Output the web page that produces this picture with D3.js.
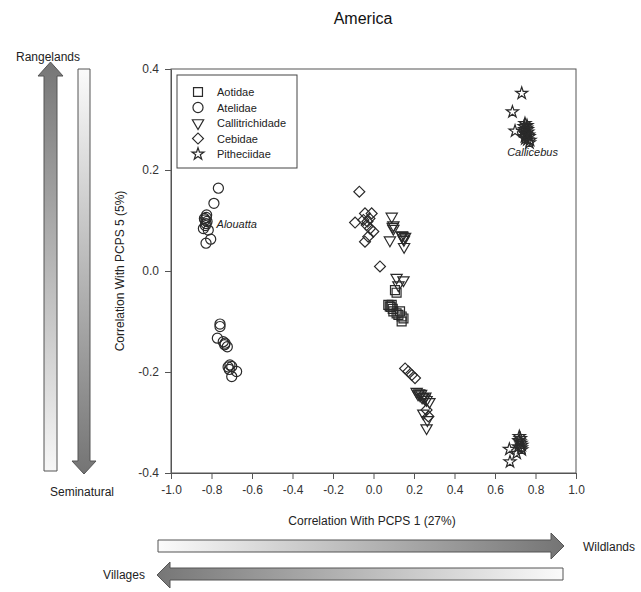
<!DOCTYPE html>
<html lang="en">
<head>
    <meta charset="UTF-8">
    <title>America</title>
    <script src="https://cdn.jsdelivr.net/npm/d3@7/dist/d3.min.js"></script>
    <style>
        body { margin: 0; background: #fff; }
        svg { font-family: "Liberation Sans", Arial, sans-serif; }
        .axis path, .axis line { stroke: #555; }
        .axis text { font-size: 12px; fill: #333; }
        .pt { fill: none; stroke: #2a2a2a; stroke-width: 1.2; }
        .arrow { stroke: #555; stroke-width: 1; }
    </style>
</head>
<body>
<svg width="641" height="592"></svg>
<script>
    // data
    var families = ['Aotidae', 'Atelidae', 'Callitrichidade', 'Cebidae', 'Pitheciidae'];

    var aotidaeX = [0.114, 0.073, 0.085, 0.098, 0.114, 0.123, 0.139, 0.090, 0.131, 0.139, 0.148, 0.106, 0.080, 0.095];
    var aotidaeY = [-0.043, -0.067, -0.071, -0.080, -0.084, -0.087, -0.090, -0.067, -0.080, -0.100, -0.094, -0.038, -0.070, -0.075];

    var atelidaeX = [-0.766, -0.788, -0.824, -0.832, -0.827, -0.840, -0.816, -0.804, -0.827, -0.835, -0.822, -0.830, -0.826,
                     -0.758, -0.758, -0.771, -0.742, -0.733, -0.722, -0.709, -0.700, -0.676, -0.700, -0.718, -0.712, -0.735];
    var atelidaeY = [0.164, 0.134, 0.111, 0.101, 0.094, 0.084, 0.081, 0.063, 0.055, 0.104, 0.098, 0.090, 0.106,
                     -0.105, -0.110, -0.133, -0.140, -0.143, -0.150, -0.186, -0.189, -0.199, -0.209, -0.190, -0.195, -0.146];

    var callitrichidadeX = [0.090, 0.098, 0.098, 0.081, 0.139, 0.148, 0.156, 0.151, 0.114, 0.148, 0.123, 0.095, 0.143, 0.150,
                            0.213, 0.230, 0.246, 0.262, 0.276, 0.225, 0.240, 0.246, 0.266, 0.262, 0.220, 0.235, 0.252, 0.256];
    var callitrichidadeY = [0.108, 0.091, 0.084, 0.061, 0.071, 0.065, 0.068, 0.048, -0.013, -0.018, -0.028, 0.088, 0.070, 0.062,
                            -0.239, -0.246, -0.249, -0.255, -0.259, -0.242, -0.250, -0.282, -0.295, -0.311, -0.244, -0.243, -0.252, -0.248];

    var cebidaeX = [-0.070, -0.042, -0.009, -0.091, -0.050, -0.034, -0.017, -0.001, -0.026, -0.042, 0.032, -0.030, -0.020,
                    0.156, 0.172, 0.189, 0.205, 0.262, 0.271];
    var cebidaeY = [0.157, 0.114, 0.114, 0.096, 0.101, 0.091, 0.084, 0.078, 0.068, 0.058, 0.009, 0.098, 0.104,
                    -0.193, -0.199, -0.206, -0.212, -0.275, -0.288];

    var pitheciidaeX = [0.732, 0.686, 0.699, 0.748, 0.756, 0.740, 0.765, 0.748, 0.773, 0.770, 0.760, 0.752,
                        0.744, 0.758, 0.762, 0.750, 0.768, 0.754, 0.746, 0.760,
                        0.720, 0.723, 0.732, 0.715, 0.732, 0.671, 0.707, 0.674, 0.725, 0.728, 0.718, 0.730];
    var pitheciidaeY = [0.352, 0.315, 0.277, 0.292, 0.283, 0.276, 0.269, 0.266, 0.259, 0.254, 0.280, 0.272,
                        0.286, 0.288, 0.275, 0.262, 0.266, 0.270, 0.280, 0.260,
                        -0.328, -0.338, -0.345, -0.348, -0.354, -0.353, -0.361, -0.378, -0.332, -0.341, -0.336, -0.350];

    var xTicks = [-1.0, -0.8, -0.6, -0.4, -0.2, 0.0, 0.2, 0.4, 0.6, 0.8, 1.0];
    var yTicks = [-0.4, -0.2, 0.0, 0.2, 0.4];

    var svg = d3.select('svg'),
        plotLeft = 171, plotRight = 576, plotTop = 69, plotBottom = 473;

    var xScale = d3.scaleLinear().domain([-1, 1]).range([plotLeft, plotRight]),
        yScale = d3.scaleLinear().domain([-0.4, 0.4]).range([plotBottom, plotTop]);

    // symbol per family
    var symbols = {
        'Aotidae': { type: d3.symbolSquare, size: 80, rot: 0 },
        'Atelidae': { type: d3.symbolCircle, size: 80, rot: 0 },
        'Callitrichidade': { type: d3.symbolTriangle, size: 55, rot: 180 },
        'Cebidae': { type: d3.symbolSquare, size: 60, rot: 45 },
        'Pitheciidae': { type: d3.symbolStar, size: 45, rot: 0 }
    };

    var seriesX = [aotidaeX, atelidaeX, callitrichidadeX, cebidaeX, pitheciidaeX],
        seriesY = [aotidaeY, atelidaeY, callitrichidadeY, cebidaeY, pitheciidaeY];

    // gradients for the arrows
    var defs = svg.append('defs');
    function grad(id, x1, y1, x2, y2, c1, c2) {
        var g = defs.append('linearGradient').attr('id', id)
            .attr('x1', x1).attr('y1', y1).attr('x2', x2).attr('y2', y2);
        g.append('stop').attr('offset', '0%').attr('stop-color', c1);
        g.append('stop').attr('offset', '100%').attr('stop-color', c2);
    }
    grad('gUp', 0, 0, 0, 1, '#767676', '#f7f7f7');
    grad('gDown', 0, 0, 0, 1, '#fbfbfb', '#747474');
    grad('gRight', 0, 0, 1, 0, '#fbfbfb', '#747474');
    grad('gLeft', 0, 0, 1, 0, '#767676', '#fbfbfb');

    // title
    svg.append('text')
        .attr('x', 363).attr('y', 24)
        .attr('text-anchor', 'middle')
        .style('font-size', '16px').style('fill', '#111')
        .text('America');

    // frame
    svg.append('rect')
        .attr('x', plotLeft).attr('y', plotTop)
        .attr('width', plotRight - plotLeft).attr('height', plotBottom - plotTop)
        .style('fill', 'none').style('stroke', '#555');

    svg.append('g')
        .classed('axis', true)
        .attr('transform', 'translate(0,' + plotBottom + ')')
        .call(d3.axisBottom(xScale).tickValues(xTicks).tickFormat(d3.format('.1f')).tickSizeOuter(0).tickPadding(6));

    svg.append('g')
        .classed('axis', true)
        .attr('transform', 'translate(' + plotLeft + ',0)')
        .call(d3.axisLeft(yScale).tickValues(yTicks).tickFormat(d3.format('.1f')).tickSizeOuter(0).tickPadding(6));

    svg.selectAll('.axis text').text(function() {
        return this.textContent.replace('\u2212', '-');
    });

    svg.append('text')
        .attr('x', 372).attr('y', 525)
        .attr('text-anchor', 'middle')
        .style('font-size', '12px').style('fill', '#222')
        .text('Correlation With PCPS 1 (27%)');

    svg.append('text')
        .attr('transform', 'translate(124,' + 271 + ') rotate(-90)')
        .attr('text-anchor', 'middle')
        .style('font-size', '12px').style('fill', '#222')
        .text('Correlation With PCPS 5 (5%)');

    // points
    families.forEach(function(name, i) {
        var s = symbols[name];
        var gen = d3.symbol().type(s.type).size(s.size);
        svg.append('g').selectAll('path')
            .data(d3.range(seriesX[i].length))
            .enter()
            .append('path')
            .classed('pt', true)
            .attr('d', gen())
            .attr('transform', function(j) {
                return 'translate(' + xScale(seriesX[i][j]) + ',' + yScale(seriesY[i][j]) + ') rotate(' + s.rot + ')';
            });
    });

    // genus labels
    svg.append('text').attr('x', xScale(-0.775)).attr('y', yScale(0.085))
        .style('font-size', '11px').style('font-style', 'italic').style('fill', '#222')
        .text('Alouatta');
    svg.append('text').attr('x', xScale(0.66)).attr('y', yScale(0.228))
        .style('font-size', '11px').style('font-style', 'italic').style('fill', '#222')
        .text('Callicebus');

    // legend
    var legend = svg.append('g').attr('transform', 'translate(177,75)');
    legend.append('rect')
        .attr('width', 120).attr('height', 93)
        .style('fill', '#fff').style('stroke', '#444');

    var legendItem = legend.selectAll('.legend-item')
        .data(families)
        .enter()
        .append('g')
        .classed('legend-item', true)
        .attr('transform', function(d, i) {
            return 'translate(21,' + (17 + i * 15.5) + ')';
        });

    legendItem.append('path')
        .classed('pt', true)
        .attr('d', function(d) {
            return d3.symbol().type(symbols[d].type).size(symbols[d].size)();
        })
        .attr('transform', function(d) { return 'rotate(' + symbols[d].rot + ')'; });

    legendItem.append('text')
        .attr('x', 19).attr('y', 4)
        .style('font-size', '11px').style('fill', '#222')
        .text(function(d) { return d; });

    // side arrows
    function arrowUp(x0, x1, hx0, hx1, tip, neck, end) {
        return 'M' + x0 + ',' + end + 'L' + x0 + ',' + neck + 'L' + hx0 + ',' + neck +
            'L' + ((hx0 + hx1) / 2) + ',' + tip + 'L' + hx1 + ',' + neck + 'L' + x1 + ',' + neck +
            'L' + x1 + ',' + end + 'Z';
    }
    svg.append('path').classed('arrow', true)
        .attr('d', arrowUp(44, 57, 38, 63, 62, 76, 471))
        .style('fill', 'url(#gUp)');
    svg.append('path').classed('arrow', true)
        .attr('d', arrowUp(78, 90, 72, 96, 474, 461, 69))
        .style('fill', 'url(#gDown)');

    function arrowSide(y0, y1, hy0, hy1, tip, neck, end) {
        return 'M' + end + ',' + y0 + 'L' + neck + ',' + y0 + 'L' + neck + ',' + hy0 +
            'L' + tip + ',' + ((hy0 + hy1) / 2) + 'L' + neck + ',' + hy1 + 'L' + neck + ',' + y1 +
            'L' + end + ',' + y1 + 'Z';
    }
    svg.append('path').classed('arrow', true)
        .attr('d', arrowSide(540, 552, 533, 559, 564, 551, 158))
        .style('fill', 'url(#gRight)');
    svg.append('path').classed('arrow', true)
        .attr('d', arrowSide(568, 580, 562, 588, 157, 170, 563))
        .style('fill', 'url(#gLeft)');

    var sideText = [
        { t: 'Rangelands', x: 48, y: 61 },
        { t: 'Seminatural', x: 82, y: 496 },
        { t: 'Wildlands', x: 609, y: 551 },
        { t: 'Villages', x: 124, y: 579 }
    ];
    svg.selectAll('.side-text')
        .data(sideText)
        .enter()
        .append('text')
        .classed('side-text', true)
        .attr('x', function(d) { return d.x; })
        .attr('y', function(d) { return d.y; })
        .attr('text-anchor', 'middle')
        .style('font-size', '12px').style('fill', '#222')
        .text(function(d) { return d.t; });
</script>
</body>
</html>
